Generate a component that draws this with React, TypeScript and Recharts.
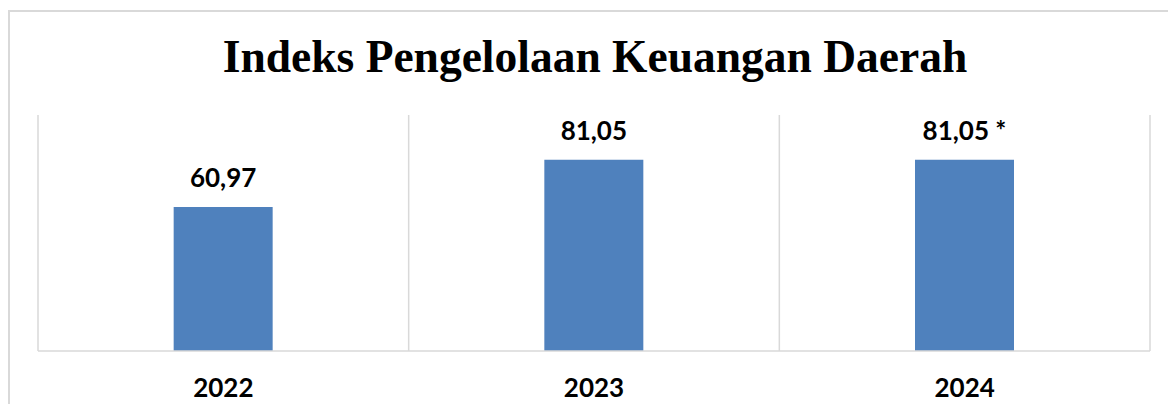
import { BarChart, Bar, XAxis, YAxis, CartesianGrid, LabelList } from "recharts";

const years = ["2022", "2023", "2024"];
const indexValues = [60.97, 81.05, 81.05];
const valueLabels = ["60,97", "81,05", "81,05 *"];

const data = years.map((year, i) => ({
  year,
  value: indexValues[i],
  label: valueLabels[i],
}));

const GRID = "#d9d9d9";

export default function App() {
  return (
    <div style={{ margin: -8, width: 1176, height: 412, position: "relative", overflow: "hidden", background: "#fff" }}>
      {/* outer frame, runs off the right and bottom edge */}
      <div
        style={{
          position: "absolute",
          left: 8,
          top: 10,
          width: 1200,
          height: 440,
          border: `2px solid ${GRID}`,
          boxSizing: "border-box",
        }}
      />
      <div
        style={{
          position: "absolute",
          left: 0,
          top: 31,
          width: 1190,
          textAlign: "center",
          fontFamily: "'Liberation Serif', serif",
          fontWeight: "bold",
          fontSize: 45.5,
          lineHeight: "52px",
          color: "#000",
        }}
      >
        Indeks Pengelolaan Keuangan Daerah
      </div>
      <div style={{ position: "absolute", left: 0, top: 0 }}>
        <BarChart
          width={1176}
          height={412}
          data={data}
          barCategoryGap="36.6%"
          margin={{ top: 115, right: 26, left: 38, bottom: 21 }}
        >
          <CartesianGrid
            horizontal={false}
            stroke={GRID}
            strokeWidth={1.5}
            verticalCoordinatesGenerator={({ offset }: any) =>
              [0, 1, 2, 3].map((i) => offset.left + (i * offset.width) / 3)
            }
          />
          <XAxis
            dataKey="year"
            height={40}
            axisLine={{ stroke: GRID, strokeWidth: 1.5 }}
            tickLine={false}
            tickMargin={22}
            tick={{ fontFamily: "Lato, sans-serif", fontWeight: "bold", fontSize: 26, fill: "#000" }}
          />
          <YAxis hide domain={[0, 100]} />
          <Bar dataKey="value" fill="#4f81bd" isAnimationActive={false}>
            <LabelList
              dataKey="label"
              position="top"
              offset={20}
              style={{ fontFamily: "Lato, sans-serif", fontWeight: "bold", fontSize: 26, fill: "#000" }}
            />
          </Bar>
        </BarChart>
      </div>
    </div>
  );
}
